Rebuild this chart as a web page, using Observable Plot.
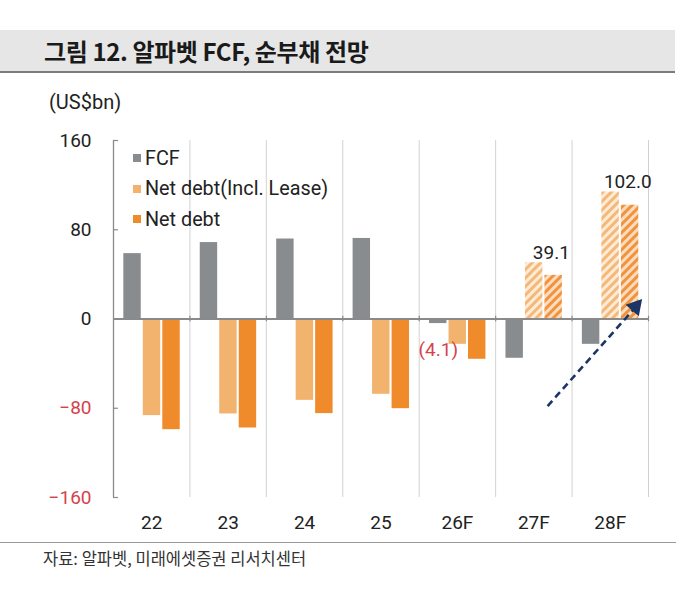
<!DOCTYPE html>
<html>
<head>
<meta charset="utf-8">
<script src="https://cdn.jsdelivr.net/npm/d3@7"></script>
<script src="https://cdn.jsdelivr.net/npm/@observablehq/plot@0.6"></script>
<style>
  html, body { margin: 0; padding: 0; background: #fff; }
  body { width: 698px; height: 612px; position: relative; overflow: hidden; font-family: Roboto, "Noto Sans CJK KR", sans-serif; color: #222; }
  #title { position: absolute; left: 0; top: 30px; width: 675px; height: 41px; background: #e6e6e6; border-bottom: 2px solid #7c7c7c; }
  #title span { position: absolute; left: 44px; top: 50%; transform: translateY(-52%); font-family: "Noto Sans CJK KR", sans-serif; font-weight: 700; font-size: 24px; color: #1a1a1a; letter-spacing: -0.4px; }
  #unit { position: absolute; left: 49px; top: 90px; font-size: 20px; color: #222; }
  #chart { position: absolute; left: 0; top: 80px; }
  #legend { position: absolute; left: 133px; top: 143px; font-size: 19.8px; color: #222; }
  #legend .row { height: 30.5px; display: flex; align-items: center; }
  #legend .sw { width: 8px; height: 8px; margin-right: 4px; }
  #footer { position: absolute; left: 0; top: 542px; width: 676px; border-top: 1.5px solid #9a9a9a; }
  #source { position: absolute; left: 43px; top: 546px; font-family: "Noto Sans CJK KR", sans-serif; font-size: 16.5px; color: #333; }
</style>
</head>
<body>
<div id="title"><span>그림 12. 알파벳 FCF, 순부채 전망</span></div>
<div id="unit">(US$bn)</div>
<div id="chart"></div>
<div id="legend"></div>
<div id="footer"></div>
<div id="source">자료: 알파벳, 미래에셋증권 리서치센터</div>
<script>
// ---- data ----
const years = ["22", "23", "24", "25", "26F", "27F", "28F"];
const fcf = [58.6, 68.5, 71.7, 72.2, -4.1, -35.2, -22.7];
const netDebtInclLease = [-86.6, -85.1, -72.9, -67.5, -22.7, 50.4, 113.8];
const netDebt = [-99.2, -97.7, -84.8, -80.4, -36.1, 39.1, 102.0];
const hatchedYears = ["27F", "28F"];
const seriesNames = ["FCF", "Net debt(Incl. Lease)", "Net debt"];
const yTicks = [-160, -80, 0, 80, 160];
const labelledYears = ["27F", "28F"];   // net debt value labels
const fcfLabelYear = "26F";             // (4.1)
// annotation arrow, in chart units (category index, US$bn)
const trendArrow = {x1: 5.68, y1: -78, x2: 6.87, y2: 15};

// ---- styles ----
const colors = {fcf: "#898c8f", incl: "#f2b36f", net: "#f08b2b"};
const red = "#d4434c";
const barStart = 0.135, barStep = 0.255, barW = 0.228;

const rows = [];
years.forEach((y, i) => {
  [fcf, netDebtInclLease, netDebt].forEach((arr, k) => {
    rows.push({i, year: y, k, value: arr[i], x1: i + barStart + k * barStep, x2: i + barStart + k * barStep + barW,
               hatched: k > 0 && hatchedYears.includes(y)});
  });
});
const plain = (k) => rows.filter(r => r.k === k && !r.hatched);
const hatched = (k) => rows.filter(r => r.k === k && r.hatched);
const dividers = d3.range(1, years.length + 1);

const font = "Roboto, 'Noto Sans CJK KR', sans-serif";

const chart = Plot.plot({
  width: 698,
  height: 460,
  marginTop: 60,
  marginBottom: 43,
  marginLeft: 113,
  marginRight: 50,
  style: {fontFamily: font, fontSize: "19px", color: "#222", background: "transparent", overflow: "visible"},
  x: {domain: [0, years.length], axis: null},
  y: {domain: [-160, 160], axis: null},
  marks: [
    // category dividers
    Plot.ruleX(dividers, {y1: -160, y2: 160, stroke: "#d2d2d2", strokeWidth: 1}),
    // bars
    Plot.rect(plain(0), {x1: "x1", x2: "x2", y1: 0, y2: "value", fill: colors.fcf}),
    Plot.rect(plain(1), {x1: "x1", x2: "x2", y1: 0, y2: "value", fill: colors.incl}),
    Plot.rect(plain(2), {x1: "x1", x2: "x2", y1: 0, y2: "value", fill: colors.net}),
    Plot.rect(hatched(1), {x1: "x1", x2: "x2", y1: 0, y2: "value", fill: "url(#hatchLight)"}),
    Plot.rect(hatched(2), {x1: "x1", x2: "x2", y1: 0, y2: "value", fill: "url(#hatchDark)"}),
    // zero line
    Plot.ruleY([0], {x1: 0, x2: years.length, stroke: "#8a8a8a", strokeWidth: 1.8}),
    Plot.ruleX(dividers, {y1: -2.5, y2: 2.5, stroke: "#8a8a8a", strokeWidth: 1.2}),
    // y axis line + inward ticks
    Plot.ruleX([0], {y1: -160, y2: 160, stroke: "#8a8a8a", strokeWidth: 1.3}),
    Plot.ruleY(yTicks, {x1: 0, x2: 0.065, stroke: "#8a8a8a", strokeWidth: 1.2}),
    // y tick labels
    Plot.text(yTicks, {x: 0, y: d => d, text: d => d3.format("d")(d).replace("-", "−"), textAnchor: "end", dx: -22,
      fill: d => d < 0 ? red : "#222", fontSize: 19}),
    // x labels
    Plot.text(years, {x: (d, i) => i + 0.5, y: -160, text: d => d, dy: 25, fontSize: 19, fill: "#222"}),
    // value labels
    Plot.text(rows.filter(r => r.k === 2 && labelledYears.includes(r.year)), {
      x: r => r.i + barStart + 2 * barStep + barW / 2 - 0.03,
      y: r => netDebtInclLease[r.i],
      text: r => r.value.toFixed(1), dy: -10, fontSize: 19, fill: "#222"}),
    Plot.text(rows.filter(r => r.k === 0 && r.year === fcfLabelYear), {
      x: r => r.i + barStart + barW / 2, y: "value",
      text: r => `(${Math.abs(r.value).toFixed(1)})`, dy: 26, fontSize: 19, fill: red}),
    // trend arrow
    Plot.link([trendArrow], {x1: "x1", y1: "y1", x2: d => d.x2 - 0.06, y2: d => d.y2 - 6,
      stroke: "#1c3566", strokeWidth: 2.6, strokeDasharray: "7,4.5"}),
    Plot.dot([trendArrow], {x: d => d.x2 - 0.04, y: d => d.y2 - 4, symbol: "triangle", r: 6.5, fill: "#1c3566", stroke: "none", rotate: 41})
  ]
});

// hatch patterns
const svgns = "http://www.w3.org/2000/svg";
const defs = document.createElementNS(svgns, "defs");
function addPattern(id, bg, stripe) {
  const p = document.createElementNS(svgns, "pattern");
  p.setAttribute("id", id);
  p.setAttribute("patternUnits", "userSpaceOnUse");
  p.setAttribute("width", "6");
  p.setAttribute("height", "6");
  p.setAttribute("patternTransform", "rotate(45)");
  const r1 = document.createElementNS(svgns, "rect");
  r1.setAttribute("width", "6"); r1.setAttribute("height", "6"); r1.setAttribute("fill", bg);
  const r2 = document.createElementNS(svgns, "rect");
  r2.setAttribute("width", "3"); r2.setAttribute("height", "6"); r2.setAttribute("fill", stripe);
  p.appendChild(r1); p.appendChild(r2);
  defs.appendChild(p);
}
addPattern("hatchLight", "#fdebd6", "#f3b87a");
addPattern("hatchDark", "#fcdcbc", "#f0933f");
chart.insertBefore(defs, chart.firstChild);
document.getElementById("chart").appendChild(chart);

// legend
const legendColors = [colors.fcf, colors.incl, colors.net];
const legend = d3.select("#legend");
seriesNames.forEach((name, k) => {
  const row = legend.append("div").attr("class", "row");
  row.append("div").attr("class", "sw").style("background", legendColors[k]);
  row.append("span").text(name);
});
</script>
</body>
</html>
